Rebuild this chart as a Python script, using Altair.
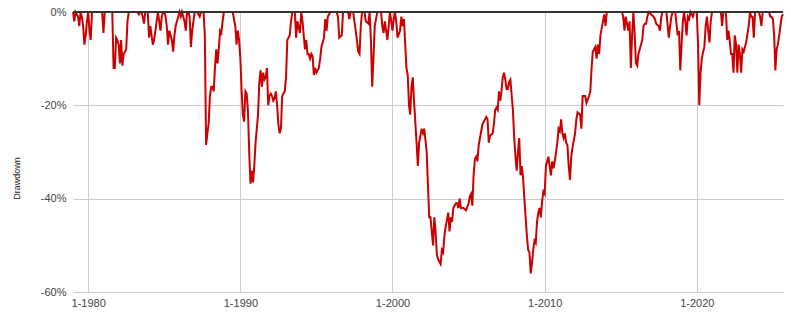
import altair as alt
import pandas as pd

months = [
    "1979-01", "1979-02", "1979-03", "1979-04", "1979-05", "1979-06", "1979-07", "1979-08",
    "1979-09", "1979-10", "1979-11", "1979-12", "1980-01", "1980-02", "1980-03", "1980-04",
    "1980-12", "1981-01", "1981-02", "1981-08", "1981-09", "1981-10", "1981-11", "1981-12",
    "1982-01", "1982-02", "1982-03", "1982-04", "1982-05", "1982-06", "1982-07", "1982-08",
    "1982-09", "1983-04", "1983-05", "1983-06", "1983-07", "1983-08", "1983-09", "1983-10",
    "1983-12", "1984-01", "1984-02", "1984-03", "1984-04", "1984-05", "1984-06", "1984-07",
    "1984-08", "1984-09", "1984-10", "1984-11", "1984-12", "1985-01", "1985-02", "1985-03",
    "1985-04", "1985-05", "1985-06", "1985-07", "1985-08", "1985-09", "1985-10", "1985-11",
    "1985-12", "1986-01", "1986-02", "1986-03", "1986-04", "1986-05", "1986-06", "1986-07",
    "1986-08", "1986-09", "1986-10", "1986-11", "1986-12", "1987-01", "1987-03", "1987-04",
    "1987-05", "1987-06", "1987-08", "1987-09", "1987-10", "1987-11", "1987-12", "1988-01",
    "1988-02", "1988-03", "1988-04", "1988-05", "1988-06", "1988-07", "1988-08", "1988-09",
    "1988-10", "1988-11", "1988-12", "1989-06", "1989-07", "1989-08", "1989-09", "1989-10",
    "1989-11", "1989-12", "1990-01", "1990-02", "1990-03", "1990-04", "1990-05", "1990-06",
    "1990-07", "1990-08", "1990-09", "1990-10", "1990-11", "1990-12", "1991-01", "1991-03",
    "1991-04", "1991-05", "1991-06", "1991-07", "1991-08", "1991-09", "1991-10", "1991-11",
    "1991-12", "1992-01", "1992-02", "1992-03", "1992-04", "1992-05", "1992-06", "1992-07",
    "1992-08", "1992-09", "1992-10", "1992-12", "1993-01", "1993-02", "1993-04", "1993-05",
    "1993-06", "1993-08", "1993-09", "1993-10", "1993-12", "1994-01", "1994-02", "1994-04",
    "1994-05", "1994-06", "1994-07", "1994-08", "1994-09", "1994-10", "1994-11", "1994-12",
    "1995-01", "1995-03", "1995-04", "1995-05", "1995-07", "1995-08", "1995-09", "1995-10",
    "1995-12", "1996-05", "1996-06", "1996-07", "1996-09", "1996-10", "1997-02", "1997-03",
    "1997-04", "1997-06", "1997-07", "1997-08", "1997-10", "1997-11", "1997-12", "1998-01",
    "1998-03", "1998-04", "1998-06", "1998-07", "1998-08", "1998-09", "1998-10", "1998-11",
    "1999-01", "1999-04", "1999-05", "1999-06", "1999-07", "1999-08", "1999-09", "1999-11",
    "2000-01", "2000-02", "2000-03", "2000-04", "2000-05", "2000-07", "2000-08", "2000-09",
    "2000-10", "2000-12", "2001-01", "2001-02", "2001-03", "2001-04", "2001-05", "2001-06",
    "2001-08", "2001-09", "2001-10", "2001-12", "2002-01", "2002-02", "2002-04", "2002-05",
    "2002-06", "2002-07", "2002-09", "2002-10", "2002-11", "2002-12", "2003-01", "2003-03",
    "2003-04", "2003-05", "2003-06", "2003-07", "2003-09", "2003-10", "2003-11", "2003-12",
    "2004-01", "2004-03", "2004-04", "2004-05", "2004-06", "2004-07", "2004-09", "2004-11",
    "2005-01", "2005-02", "2005-03", "2005-04", "2005-05", "2005-06", "2005-07", "2005-08",
    "2005-09", "2005-10", "2005-11", "2005-12", "2006-02", "2006-03", "2006-04", "2006-05",
    "2006-06", "2006-08", "2006-09", "2006-10", "2006-11", "2006-12", "2007-01", "2007-02",
    "2007-03", "2007-04", "2007-05", "2007-06", "2007-07", "2007-08", "2007-09", "2007-10",
    "2007-12", "2008-01", "2008-02", "2008-03", "2008-04", "2008-05", "2008-06", "2008-07",
    "2008-08", "2008-09", "2008-11", "2008-12", "2009-01", "2009-02", "2009-03", "2009-04",
    "2009-05", "2009-06", "2009-07", "2009-08", "2009-09", "2009-10", "2009-11", "2009-12",
    "2010-01", "2010-02", "2010-04", "2010-05", "2010-06", "2010-07", "2010-08", "2010-09",
    "2010-11", "2010-12", "2011-01", "2011-02", "2011-03", "2011-04", "2011-05", "2011-06",
    "2011-07", "2011-08", "2011-09", "2011-10", "2011-11", "2012-01", "2012-02", "2012-03",
    "2012-05", "2012-06", "2012-07", "2012-08", "2012-09", "2012-10", "2012-12", "2013-01",
    "2013-02", "2013-03", "2013-04", "2013-05", "2013-06", "2013-07", "2013-08", "2013-09",
    "2013-11", "2013-12", "2014-01", "2014-02", "2015-02", "2015-03", "2015-04", "2015-05",
    "2015-07", "2015-08", "2015-09", "2015-10", "2015-11", "2015-12", "2016-01", "2016-02",
    "2016-03", "2016-05", "2016-06", "2016-07", "2016-08", "2016-09", "2016-10", "2016-11",
    "2017-03", "2017-04", "2017-05", "2017-07", "2017-08", "2017-09", "2017-10", "2018-01",
    "2018-03", "2018-04", "2018-05", "2018-06", "2018-08", "2018-10", "2018-11", "2018-12",
    "2019-01", "2019-02", "2019-03", "2019-04", "2019-05", "2019-06", "2019-07", "2019-08",
    "2019-10", "2019-11", "2020-01", "2020-02", "2020-03", "2020-04", "2020-05", "2020-06",
    "2020-07", "2020-08", "2020-09", "2020-10", "2020-11", "2020-12", "2021-01", "2021-08",
    "2021-09", "2021-10", "2021-12", "2022-01", "2022-02", "2022-03", "2022-04", "2022-05",
    "2022-06", "2022-07", "2022-08", "2022-09", "2022-10", "2022-11", "2022-12", "2023-01",
    "2023-02", "2023-03", "2023-04", "2023-06", "2023-07", "2023-08", "2023-09", "2023-10",
    "2023-11", "2024-02", "2024-03", "2024-04", "2024-05", "2024-10", "2024-11", "2024-12",
    "2025-01", "2025-02", "2025-03", "2025-04", "2025-05", "2025-07", "2025-08", "2025-09",
]

drawdown = [
    0, -2, 0, -0.5, -1, -3, 0, -1,
    -3, -7, -5, -2, 0, -4, -6, 0,
    0, -4.5, 0, 0, -12, -12, -5.5, -6,
    -7, -11, -6, -11.5, -9, -8.5, -8, -2,
    0, 0, -0.5, 0, 0, -1, -2.5, 0,
    0, -5.5, -3, -5, -7, -6, -4, -2,
    0, -2, -4, -1, 0, 0, -1, -3,
    -7, -4, -5, -6, -8.5, -5, -3, -2,
    -1, 0, -1, 0, -1, -2, -4, 0,
    0, -1, -7.5, -4, -2, 0, 0, -0.5,
    -1, 0, 0, -5, -28.5, -26, -24, -18,
    -16, -16, -17, -12, -8, -11, -8, -4,
    -4.5, -2, 0, 0, 0, -1.5, -3, -7,
    -4, -6, -10, -17, -22, -23.5, -17, -17.5,
    -21, -30, -36.8, -34, -36.5, -33, -28, -22,
    -15, -12.5, -16, -13, -14.5, -14, -12, -20,
    -18, -17.5, -18, -19, -18.5, -17, -20, -24,
    -26, -25, -18, -17, -14, -6, -5, -2,
    0, 0, -5.5, -2, -4.5, 0, -2, -8,
    -6, -9, -9, -10, -9, -9.5, -13.5, -12,
    -13, -12, -10, -7.5, -5.5, -1.5, -4, -1,
    0, 0, -1, -5.5, -5, 0, 0, -1.5,
    0, 0, -2, -4, -8.5, -9, -3, 0,
    0, -2, -2.5, 0, -6, -16, -10, -3,
    0, 0, -3, -4.5, -2, -4, -6, 0,
    -4, -1.5, 0, -2, -5.5, -4, -1, -3,
    -1.5, -12, -13.5, -20, -22, -16, -14, -19,
    -28, -33, -28, -25, -26, -25, -30, -37,
    -44, -44, -50, -44, -47, -52, -53, -54,
    -51, -51.5, -48, -46, -43, -47, -44, -45,
    -42, -41, -41, -42, -40, -42, -42, -42.5,
    -41, -39.5, -39, -41.5, -35, -31.5, -31, -32,
    -28.5, -27, -25.5, -24, -23, -22.5, -23, -28,
    -26.5, -26, -24, -21, -20.5, -21, -17, -19,
    -17, -14, -13, -14.5, -16.5, -16.5, -15, -14.5,
    -21, -27, -31, -34, -30, -27, -35, -33,
    -35.5, -40, -48, -51, -51.5, -56, -54, -51,
    -49, -49.5, -45, -43, -42, -44, -40.5, -38.5,
    -39, -33, -31, -33, -35, -32, -33.5, -32,
    -28, -25, -25.5, -23, -26, -27, -26, -28,
    -28.5, -33, -36, -31, -29, -26, -23, -21.5,
    -22, -25, -18, -18, -18, -19.5, -18, -17,
    -12, -8.5, -8, -7.5, -10, -7, -9, -5,
    -2, -0.5, -3, 0, 0, -1, -4, -1,
    -4, -2, -12, -5, 0, -4.5, -11, -11.5,
    -9, -7, -6, -3, -2.5, -2.5, -1, 0,
    -1, -1.5, -2.5, -3, -4, -1, 0, 0,
    -5.5, -3, -1, 0, 0, -5, -4, -12.5,
    -7, -2, 0, -2, -5, -1, -1.5, 0,
    -1, 0, 0, -7, -20, -13, -10, -8.5,
    -7.5, -3, -1, -4, -6.5, -2, 0, 0,
    -3, 0, 0, -6, -4, -6, -9, -9,
    -13, -5, -7, -13, -7, -9, -13, -8,
    -8.5, -7.5, -6.5, -3, 0, -1, -1, -5.5,
    0, 0, -1, -3, 0, 0, -1, -1,
    -1.5, -5, -12.5, -8, -7, -3, -1, -0.5,
]

x_tick_years = [1980, 1990, 2000, 2010, 2020]
y_ticks = [0, -20, -40, -60]

df = pd.DataFrame({
    "date": pd.to_datetime([m + "-01" for m in months]),
    "drawdown": drawdown,
})

label_font = "Liberation Sans"

x_enc = alt.X(
    "date:T",
    scale=alt.Scale(nice=False),
    axis=alt.Axis(
        values=[alt.DateTime(year=y, month=1, date=1) for y in x_tick_years],
        format="%-m-%Y",
        title=None,
        grid=True,
        gridColor="#cccccc",
        domain=False,
        ticks=False,
        labelPadding=5,
        labelFont=label_font,
        labelFontSize=11,
        labelColor="#444444",
        labelAlign="center",
    ),
)

y_enc = alt.Y(
    "drawdown:Q",
    scale=alt.Scale(domain=[-60, 0], nice=False),
    axis=alt.Axis(
        values=y_ticks,
        labelExpr="datum.value + '%'",
        title="Drawdown",
        titleFont=label_font,
        titleFontSize=9,
        titleFontWeight="normal",
        titleColor="#222222",
        titleX=-52,
        titleY=166,
        grid=True,
        gridColor="#cccccc",
        domain=False,
        ticks=False,
        labelPadding=7,
        labelFont=label_font,
        labelFontSize=11,
        labelColor="#444444",
    ),
)

line = alt.Chart(df).mark_line(color="#cc0000", strokeWidth=2).encode(x=x_enc, y=y_enc)

zero_rule = alt.Chart(df).mark_rule(color="#333333", strokeWidth=1).encode(y=alt.datum(0))

chart = (
    alt.layer(line, zero_rule)
    .properties(
        width=710,
        height=280,
        autosize=alt.AutoSizeParams(type="none"),
        padding={"left": 73, "top": 12, "right": 8, "bottom": 25},
        background="white",
    )
    .configure_view(stroke=None)
)

chart.save("out.html", embed_options={"renderer": "svg", "actions": False})
